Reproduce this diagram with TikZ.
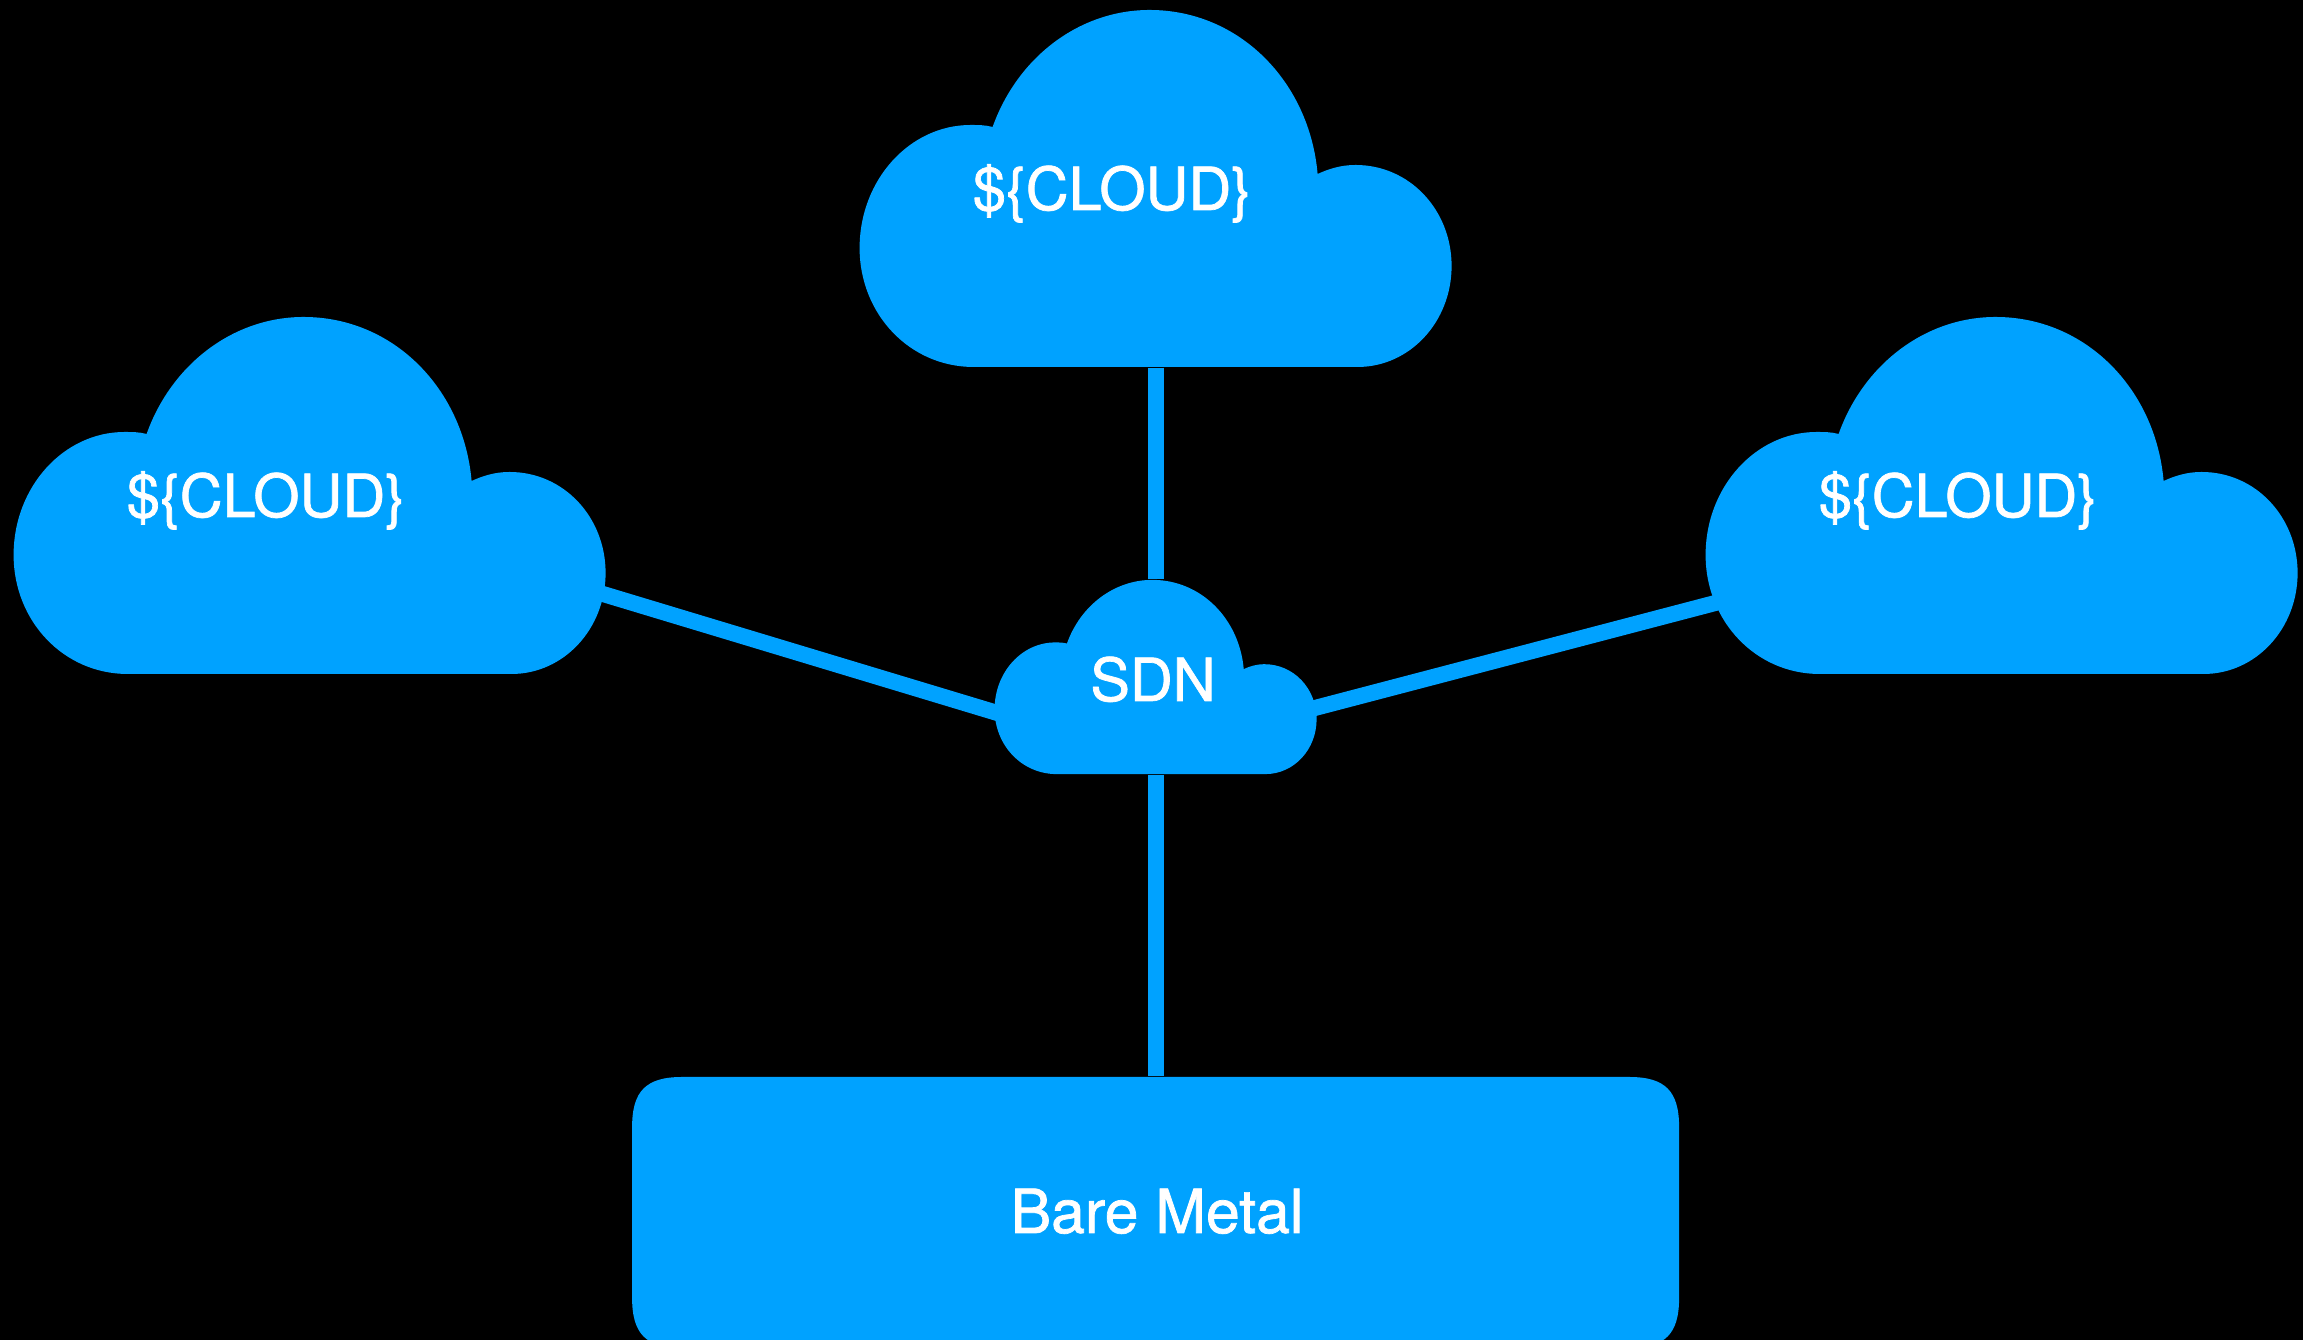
\documentclass[tikz,border=0pt]{standalone}
\usepackage{fontspec}
\setmainfont[FakeBold=1.2]{TeX Gyre Heros}
\definecolor{cloudblue}{HTML}{00A2FF}
\tikzset{
	cloudnode/.style={inner sep=0pt,minimum width=#1*5.92cm,minimum height=#1*3.57cm,
		path picture={\fill[cloudblue,x=#1cm,y=#1cm]
			(-1.82,-1.785) -- (2.02,-1.785)
			.. controls (2.54,-1.785) and (2.96,-1.335) .. (2.96,-0.775)
			.. controls (2.96,-0.215) and (2.54,0.235) .. (2.00,0.235)
			.. controls (1.85,0.235) and (1.73,0.195) .. (1.62,0.145)
			.. controls (1.54,1.065) and (0.84,1.785) .. (-0.06,1.785)
			.. controls (-0.76,1.785) and (-1.38,1.315) .. (-1.63,0.615)
			.. controls (-1.70,0.635) and (-1.78,0.635) .. (-1.85,0.635)
			.. controls (-2.46,0.635) and (-2.96,0.085) .. (-2.96,-0.595)
			.. controls (-2.96,-1.255) and (-2.46,-1.785) .. (-1.82,-1.785) -- cycle;}},
	metalnode/.style={inner sep=0pt,minimum width=10.47cm,minimum height=2.71cm,
		path picture={\fill[cloudblue]
			(-4.735,1.355) -- (4.735,1.355)
			.. controls (5.095,1.355) and (5.235,1.215) .. (5.235,0.855)
			-- (5.235,-0.855)
			.. controls (5.235,-1.215) and (5.095,-1.355) .. (4.735,-1.355)
			-- (-4.735,-1.355)
			.. controls (-5.095,-1.355) and (-5.235,-1.215) .. (-5.235,-0.855)
			-- (-5.235,0.855)
			.. controls (-5.235,1.215) and (-5.095,1.355) .. (-4.735,1.355) -- cycle;}},
	cloudtext/.style={text=white,inner sep=0pt,anchor=base,font=\fontsize{16.9pt}{20pt}\selectfont},
	metaltext/.style={cloudtext,font=\fontsize{17.3pt}{20pt}\selectfont},
	link/.style={draw=cloudblue,line width=0.16cm}
}
\begin{document}
\begin{tikzpicture}
	\fill[black] (0,0) rectangle (23.03,13.40);
	\clip (0,0) rectangle (23.03,13.40);

	\node[cloudnode=1] (top) at (11.556, 11.515) {};
	\node[cloudnode=1] (left) at (3.096, 8.445) {};
	\node[cloudnode=1] (right) at (20.016, 8.445) {};
	\node[cloudnode=0.544] (sdn) at (11.556, 6.63) {};
	\node[metalnode] (metal) at (11.556, 1.275) {};

	\node[cloudtext] (toplabel) at (11.12, 11.30) {\$\{CLOUD\}};
	\node[cloudtext] (leftlabel) at (2.66, 8.23) {\$\{CLOUD\}};
	\node[cloudtext] (rightlabel) at (19.58, 8.23) {\$\{CLOUD\}};
	\node[cloudtext] (sdnlabel) at (11.53, 6.39) {SDN};
	\node[metaltext] (metallabel) at (11.57, 1.07) {Bare Metal};

	\path[link] (top) edge (sdn);
	\path[link] (sdn) edge (metal);
	\path[link] ([xshift=-0.15cm,yshift=-0.95cm]left.east) edge ([xshift=0.10cm,yshift=-0.38cm]sdn.west);
	\path[link] ([xshift=0.20cm,yshift=-1.05cm]right.west) edge ([xshift=-0.10cm,yshift=-0.33cm]sdn.east);
\end{tikzpicture}
\end{document}
